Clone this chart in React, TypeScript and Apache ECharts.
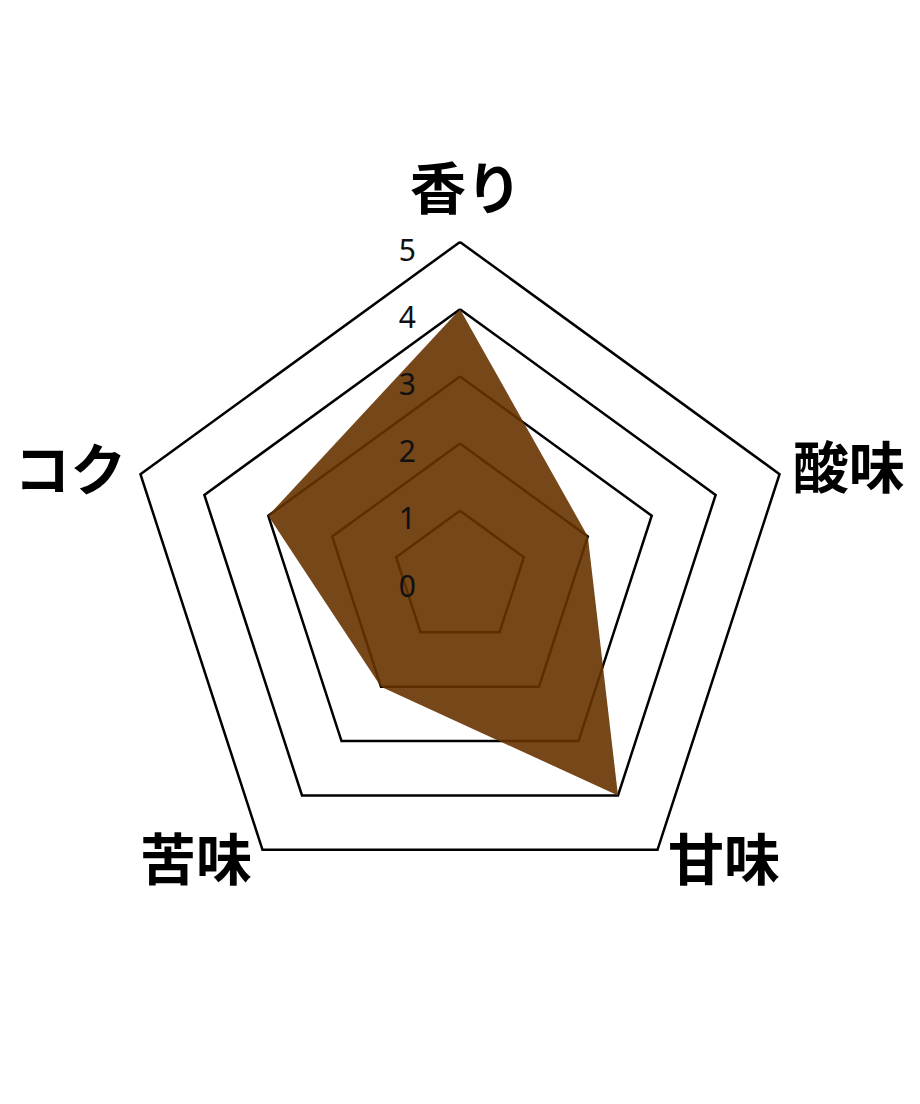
import React, { useEffect, useRef } from "react";
import * as echarts from "echarts";

// Indicators listed in ECharts order (counter-clockwise from the top)
const categories = ["香り", "コク", "苦味", "甘味", "酸味"];
const values = [4, 3, 2, 4, 2];
const maxValue = 5;

// per-indicator name placement tweaks
const nameGaps = [22, 15, 18, 18, 14];
const nameStyleKeys = ["t", "l", "b", "b", "r"];

export default function App() {
  const ref = useRef<HTMLDivElement>(null);
  useEffect(() => {
    if (!ref.current) return;
    const chart = echarts.init(ref.current, undefined, { renderer: "svg" });
    const nameFont = {
      color: "#000",
      fontSize: 56,
      fontWeight: "bold" as const,
      fontFamily: "Noto Sans CJK JP",
    };
    const common = {
      center: [452, 570],
      radius: 336,
      startAngle: 90,
      splitNumber: 5,
      shape: "polygon",
      axisLine: { show: false },
      axisTick: { show: false },
      splitArea: { show: false },
    };
    chart.setOption({
      animation: false,
      backgroundColor: "#ffffff",
      radar: [
        {
          ...common,
          z: 1,
          axisName: {
            ...nameFont,
            formatter: (name: string) => {
              const i = categories.indexOf(name);
              return `{${nameStyleKeys[i]}|${name}}`;
            },
            rich: {
              t: { ...nameFont, padding: [0, 0, 8, 12] },
              l: { ...nameFont, padding: [0, 0, 8, 0] },
              r: { ...nameFont, padding: [0, 0, 12, 0] },
              b: { ...nameFont, padding: [0, 0, 18, 0] },
            },
          },
          indicator: categories.map((name, i) => ({
            name,
            min: 0,
            max: maxValue,
            nameGap: nameGaps[i],
          })),
          axisLabel: { show: false },
          splitLine: { lineStyle: { color: "#000", width: 2.5 } },
        },
        {
          ...common,
          z: 10,
          axisName: { show: false },
          indicator: categories.map((name, i) =>
            i === 0
              ? {
                  name,
                  min: 0,
                  max: maxValue,
                  axisLabel: {
                    show: true,
                    margin: 44,
                    formatter: "{v|{value}}",
                    rich: {
                      v: {
                        color: "#111",
                        fontSize: 30,
                        fontFamily: "Noto Sans",
                        padding: [14, 0, 0, 0],
                      },
                    },
                  },
                }
              : { name, min: 0, max: maxValue }
          ),
          axisLabel: { show: false },
          splitLine: { show: false },
        },
      ],
      series: [
        {
          type: "radar",
          radarIndex: 0,
          z: 2,
          symbol: "none",
          lineStyle: { width: 0 },
          areaStyle: { color: "#663300", opacity: 0.9 },
          data: [{ value: values }],
        },
      ],
    });
    return () => chart.dispose();
  }, []);
  return <div ref={ref} style={{ width: 904, height: 1088 }} />;
}
